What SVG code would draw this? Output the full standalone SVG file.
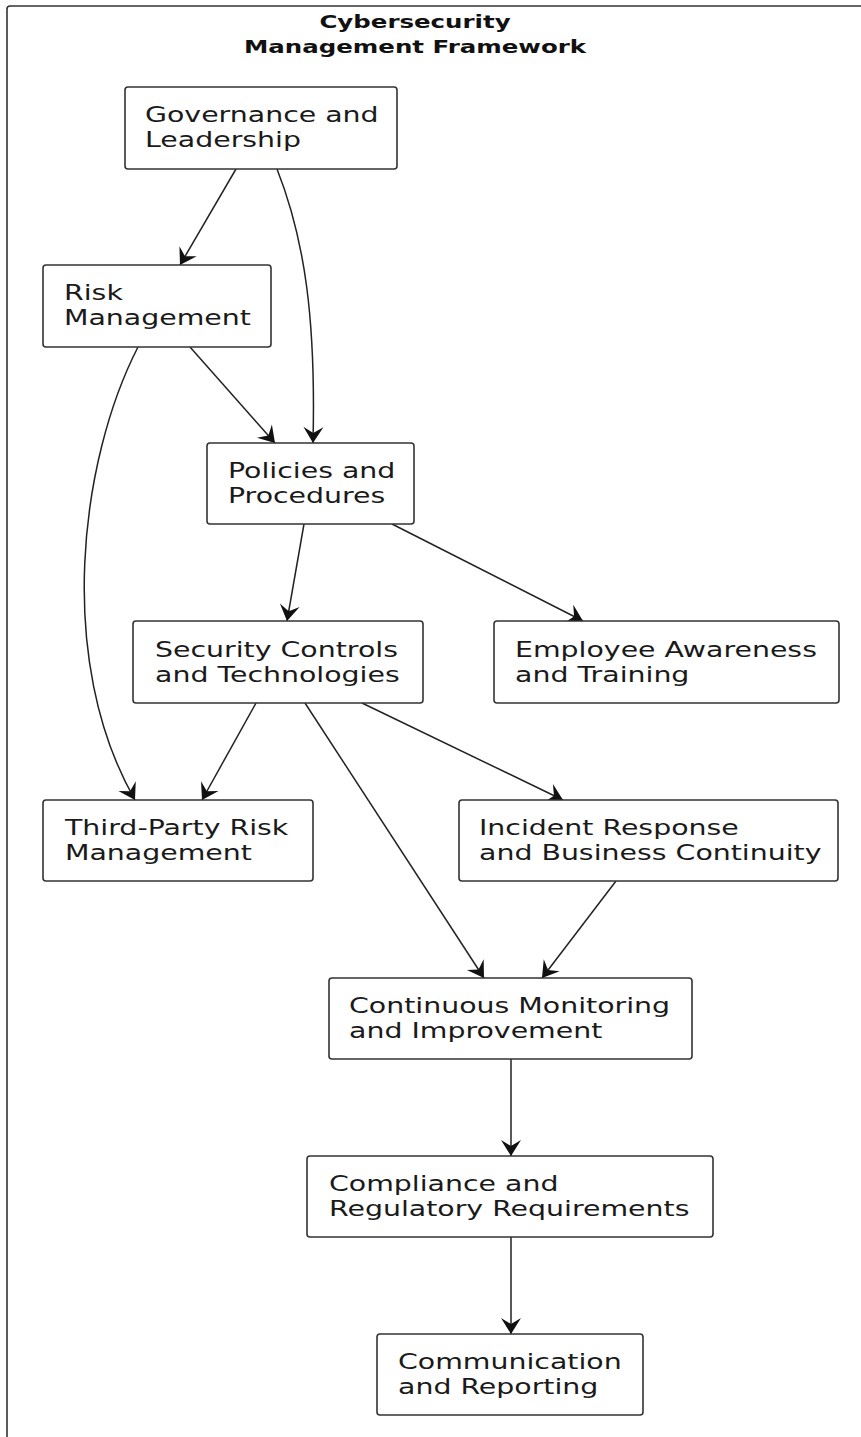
<svg xmlns="http://www.w3.org/2000/svg" width="861" height="1437" viewBox="0 0 861 1437">
<style>
.box{fill:#fff;stroke:#333;stroke-width:1.6}
.lbl{font-family:"DejaVu Sans",sans-serif;font-size:20.5px;fill:#1a1a1a}
.ttl{font-family:"DejaVu Sans",sans-serif;font-size:18px;font-weight:bold;fill:#111}
.edge{fill:none;stroke:#222;stroke-width:1.5;marker-end:url(#arr)}
</style>
<defs>
<marker id="arr" markerUnits="userSpaceOnUse" markerWidth="22" markerHeight="22" viewBox="-18 -11 20 22" refX="0" refY="0" orient="auto">
<path d="M0,0 L-16,-10 L-10,0 L-16,10 Z" fill="#111"/>
</marker>
</defs>
<rect width="861" height="1437" fill="#fff"/>
<rect id="frame" x="7" y="6" width="900" height="1500" rx="3" fill="none" stroke="#333" stroke-width="1.6"/>
<g id="title"><text class="ttl" text-anchor="middle" transform="translate(415,28) scale(1.36,1)"><tspan x="0">Cybersecurity</tspan><tspan x="0" dy="25">Management Framework</tspan></text></g>
<g id="connectors">
<path class="edge" d="M236,169 L180,265"/>
<path class="edge" d="M277,169 C305,240 316,320 313,443"/>
<path class="edge" d="M190,347 L275,443"/>
<path class="edge" d="M138,347 C80,460 55,660 135,800"/>
<path class="edge" d="M304,524 L287,621"/>
<path class="edge" d="M392,524 L583,621"/>
<path class="edge" d="M256,703 L202,800"/>
<path class="edge" d="M305,703 L484,978"/>
<path class="edge" d="M362,703 L563,800"/>
<path class="edge" d="M616,881 L542,978"/>
<path class="edge" d="M511,1059 L511,1156"/>
<path class="edge" d="M511,1237 L511,1334"/>
</g>
<g id="gov"><rect class="box" x="125" y="87" width="272" height="82" rx="3"/><text class="lbl" transform="translate(145,122) scale(1.385,1)"><tspan x="0">Governance and</tspan><tspan x="0" dy="25">Leadership</tspan></text></g>
<g id="risk"><rect class="box" x="43" y="265" width="228" height="82" rx="3"/><text class="lbl" transform="translate(64,300) scale(1.385,1)"><tspan x="0">Risk</tspan><tspan x="0" dy="25">Management</tspan></text></g>
<g id="policies"><rect class="box" x="207" y="443" width="207" height="81" rx="3"/><text class="lbl" transform="translate(228,478) scale(1.385,1)"><tspan x="0">Policies and</tspan><tspan x="0" dy="25">Procedures</tspan></text></g>
<g id="security"><rect class="box" x="133" y="621" width="290" height="82" rx="3"/><text class="lbl" transform="translate(155,657) scale(1.385,1)"><tspan x="0">Security Controls</tspan><tspan x="0" dy="25">and Technologies</tspan></text></g>
<g id="employee"><rect class="box" x="494" y="621" width="345" height="82" rx="3"/><text class="lbl" transform="translate(515,657) scale(1.385,1)"><tspan x="0">Employee Awareness</tspan><tspan x="0" dy="25">and Training</tspan></text></g>
<g id="thirdparty"><rect class="box" x="43" y="800" width="270" height="81" rx="3"/><text class="lbl" transform="translate(65,835) scale(1.385,1)"><tspan x="0">Third-Party Risk</tspan><tspan x="0" dy="25">Management</tspan></text></g>
<g id="incident"><rect class="box" x="459" y="800" width="379" height="81" rx="3"/><text class="lbl" transform="translate(479,835) scale(1.385,1)"><tspan x="0">Incident Response</tspan><tspan x="0" dy="25">and Business Continuity</tspan></text></g>
<g id="monitoring"><rect class="box" x="329" y="978" width="363" height="81" rx="3"/><text class="lbl" transform="translate(349,1013) scale(1.385,1)"><tspan x="0">Continuous Monitoring</tspan><tspan x="0" dy="25">and Improvement</tspan></text></g>
<g id="compliance"><rect class="box" x="307" y="1156" width="406" height="81" rx="3"/><text class="lbl" transform="translate(329,1191) scale(1.385,1)"><tspan x="0">Compliance and</tspan><tspan x="0" dy="25">Regulatory Requirements</tspan></text></g>
<g id="communication"><rect class="box" x="377" y="1334" width="266" height="81" rx="3"/><text class="lbl" transform="translate(398,1369) scale(1.385,1)"><tspan x="0">Communication</tspan><tspan x="0" dy="25">and Reporting</tspan></text></g>
</svg>
